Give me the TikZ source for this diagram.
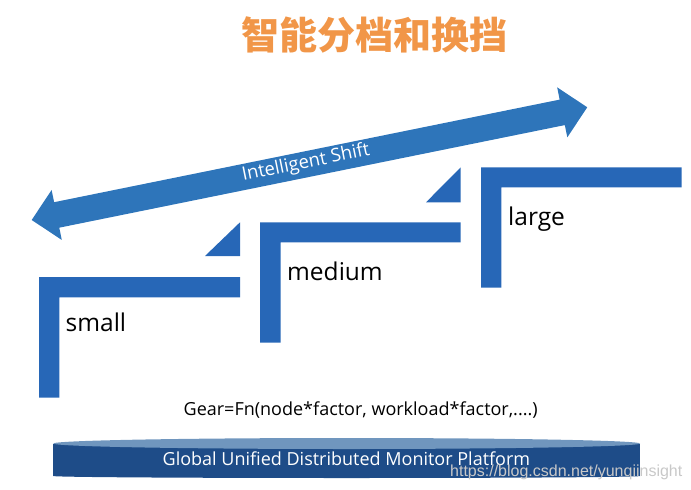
\documentclass[tikz,border=0pt]{standalone}
\usepackage{fontspec}
\setmainfont{Open Sans}
\newfontfamily\cjk{Noto Sans CJK SC}
\newfontfamily\wmfont{Liberation Sans}
\definecolor{arrowblue}{RGB}{46,117,186}
\definecolor{stepblue}{RGB}{39,103,183}
\definecolor{titleorange}{RGB}{241,150,72}
\definecolor{platdark}{RGB}{30,76,136}
\definecolor{plattop}{RGB}{112,150,190}
\definecolor{wmgray}{RGB}{200,200,200}
\begin{document}
\begin{tikzpicture}[x=1pt,y=-1pt,
  stepshape/.style={fill=stepblue},
  gearlabel/.style={font=\fontsize{24.5}{28}\selectfont, anchor=base west, inner sep=0},
  bodytext/.style={font=\fontsize{18}{22}\selectfont, inner sep=0}]
\useasboundingbox (0,0) rectangle (691,490);

% title
\node[font=\cjk\bfseries\fontsize{38}{42}\selectfont, text=titleorange, inner sep=0] (title) at (374.5,34.5) {智能分档和换挡};

% double arrow
\begin{scope}[shift={(31.7,220)}, rotate=11.47]
  \fill[arrowblue] (0,0) -- (25.5,25.5) -- (25.5,13) -- (541.4,13) -- (541.4,25.5) -- (566.9,0)
    -- (541.4,-25.5) -- (541.4,-13) -- (25.5,-13) -- (25.5,-25.5) -- cycle;
  \node[font=\fontsize{18.5}{20}\selectfont, text=white, rotate=11.47, inner sep=0] (shift) at (280,-1) {Intelligent Shift};
\end{scope}

% steps
\fill[stepshape] (39,277) -- (240,277) -- (240,297.3) -- (59.3,297.3) -- (59.3,397.7) -- (39,397.7) -- cycle;
\fill[stepshape] (260,222.3) -- (460.7,222.3) -- (460.7,242.3) -- (280.7,242.3) -- (280.7,342.7) -- (260,342.7) -- cycle;
\fill[stepshape] (481,167.3) -- (681.7,167.3) -- (681.7,187.3) -- (501.3,187.3) -- (501.3,287.7) -- (481,287.7) -- cycle;
\fill[stepshape] (240,222.3) -- (240,256) -- (205,256) -- cycle;
\fill[stepshape] (460.7,167.3) -- (460.7,202.3) -- (426,202.3) -- cycle;

\node[gearlabel] (small) at (65.5,331) {small};
\node[gearlabel] (medium) at (287,280) {medium};
\node[gearlabel] (large) at (508,225) {large};

% formula
\node[bodytext, anchor=base] (gear) at (360.7,415) {Gear=Fn(node*factor, workload*factor,....)};

% platform
\fill[platdark] (53.3,443.5) rectangle (640,476);
\fill[platdark] (346.65,476) ellipse [x radius=293.35, y radius=2];
\fill[plattop] (346.65,443.5) ellipse [x radius=293.35, y radius=5.5];
\node[bodytext, anchor=base, text=white] (platform) at (346.4,465.7) {Global Unified Distributed Monitor Platform};

% watermark
\node[font=\wmfont\fontsize{16}{19}\selectfont, text=wmgray, anchor=base west, inner sep=0] (wm) at (450,476.7) {https://blog.csdn.net/yunqiinsight};
\end{tikzpicture}
\end{document}
